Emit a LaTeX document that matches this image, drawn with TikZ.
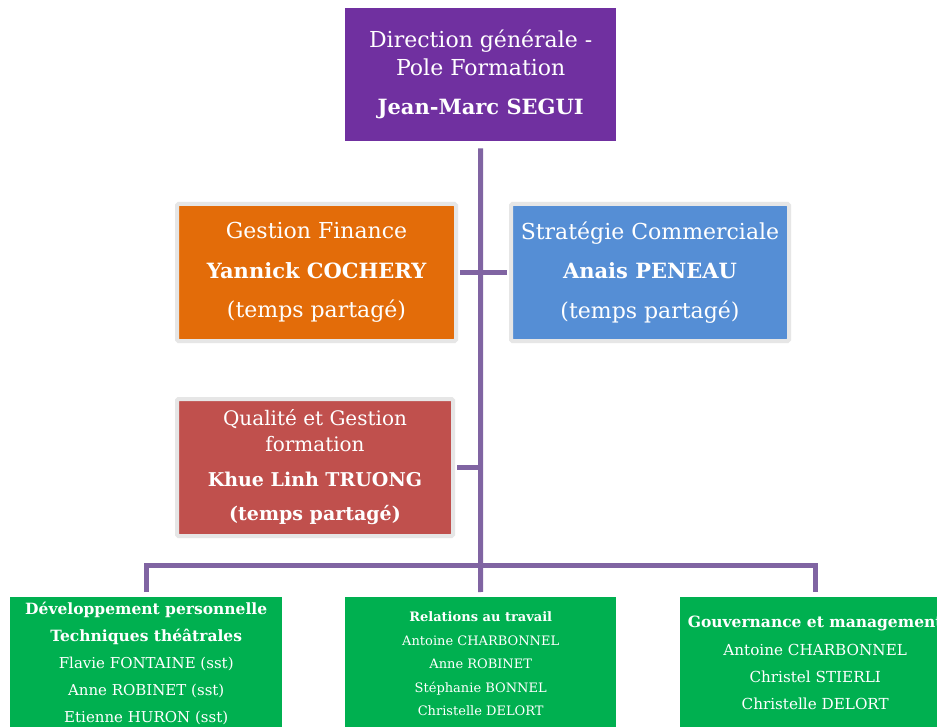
\documentclass[tikz,border=0pt]{standalone}
\usepackage{fontspec}
\setmainfont{DejaVu Serif}
\definecolor{dirpurple}{HTML}{7030A0}
\definecolor{linepurple}{HTML}{8064A2}
\definecolor{finorange}{HTML}{E36C09}
\definecolor{comblue}{HTML}{558ED5}
\definecolor{qualred}{HTML}{C0504D}
\definecolor{teamgreen}{HTML}{00B050}
\definecolor{boxgray}{HTML}{E6E6E6}
\begin{document}
\begin{tikzpicture}[x=1pt,y=-1pt]
\tikzset{
  box/.style={rectangle, inner sep=0pt, text=white, align=center, anchor=north west},
  gbox/.style={box, draw=boxgray, line width=4pt, rounded corners=1.5pt},
  conn/.style={draw=linepurple, line width=5pt},
}
\fill[white] (0,0) rectangle (937,727);
\useasboundingbox (0,0) rectangle (937,727);
% top
\node[box, fill=dirpurple, minimum width=271pt, minimum height=133pt,
  font={\fontsize{22}{28}\selectfont}] (dir) at (345,8)
  {Direction générale -\\Pole Formation\\[11pt]
   {\bfseries\fontsize{21}{28}\selectfont Jean-Marc SEGUI}};
% finance
\node[gbox, fill=finorange, minimum width=279pt, minimum height=137pt,
  font={\fontsize{22}{39.5}\selectfont}] (fin) at (175,202)
  {Gestion Finance\\
   {\bfseries\fontsize{21}{39.5}\selectfont Yannick COCHERY}\\
   (temps partagé)};
% commercial
\node[gbox, fill=comblue, minimum width=278pt, minimum height=137pt,
  font={\fontsize{22}{39.5}\selectfont}] (com) at (509,202)
  {Stratégie Commerciale\\
   {\bfseries\fontsize{21}{39.5}\selectfont Anais PENEAU}\\
   (temps partagé)};
% qualite
\node[gbox, fill=qualred, minimum width=276pt, minimum height=137pt,
  font={\fontsize{20}{26}\selectfont}] (qual) at (175,397)
  {Qualité et Gestion\\formation\\[9pt]
   {\bfseries\fontsize{19}{35}\selectfont Khue Linh TRUONG}\\[8pt]
   {\bfseries\fontsize{19}{35}\selectfont (temps partagé)}};
% teams
\node[box, fill=teamgreen, minimum width=272pt, minimum height=132pt,
  font={\fontsize{15}{27}\selectfont}] (t1) at (10,597)
  {{\bfseries\fontsize{15.5}{27}\selectfont Développement personnelle}\\
   {\bfseries\fontsize{15.5}{27}\selectfont Techniques théâtrales}\\
   Flavie FONTAINE (sst)\\Anne ROBINET (sst)\\Etienne HURON (sst)};
\node[box, fill=teamgreen, minimum width=271pt, minimum height=133pt,
  font={\fontsize{13}{23.5}\selectfont}] (t2) at (345,597)
  {{\bfseries Relations au travail}\\
   Antoine CHARBONNEL\\Anne ROBINET\\Stéphanie BONNEL\\Christelle DELORT};
\node[box, fill=teamgreen, minimum width=270pt, minimum height=132pt,
  font={\fontsize{15.2}{27.3}\selectfont}] (t3) at (680,597)
  {{\bfseries\fontsize{15.5}{27.3}\selectfont Gouvernance et management}\\
   Antoine CHARBONNEL\\Christel STIERLI\\Christelle DELORT};
% connectors
\coordinate (spinetop) at ([yshift=-7pt]dir.south);
\coordinate (bus) at (480.5,565.5);
\coordinate (d1) at ([yshift=5pt]t1.north);
\coordinate (d2) at ([yshift=5pt]t2.north);
\coordinate (d3) at ([yshift=5pt]t3.north);
\draw[conn] (spinetop) -- (bus);
\draw[conn, shorten <=2pt, shorten >=2pt] (fin.east) -- (com.west);
\draw[conn, shorten <=2pt] (qual.east) -- (qual.east -| bus);
\draw[conn] (d1) |- (bus) -| (d3);
\draw[conn] (bus) -- (d2);
\end{tikzpicture}
\end{document}
